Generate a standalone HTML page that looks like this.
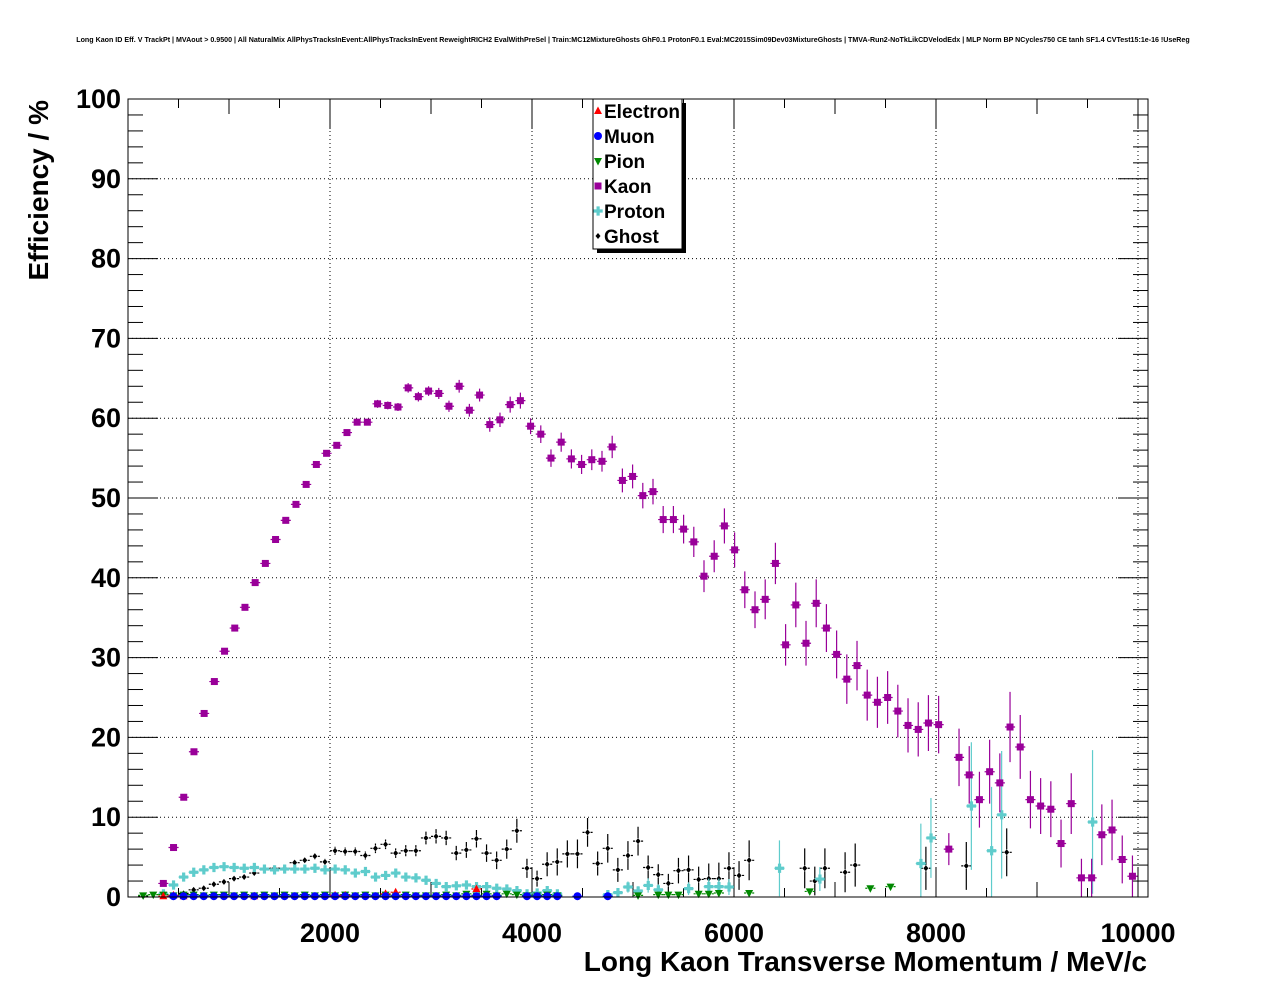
<!DOCTYPE html>
<html><head><meta charset="utf-8"><style>
html,body{margin:0;padding:0;background:#fff;}
svg{display:block;font-family:"Liberation Sans",sans-serif;}
</style></head><body>
<svg id="chart" width="1276" height="996" viewBox="0 0 1276 996" xmlns="http://www.w3.org/2000/svg">
<text x="633" y="42" font-size="7.1" text-anchor="middle" font-weight="bold">Long Kaon ID Eff. V TrackPt | MVAout &gt; 0.9500 | All NaturalMix AllPhysTracksInEvent:AllPhysTracksInEvent ReweightRICH2 EvalWithPreSel | Train:MC12MixtureGhosts GhF0.1 ProtonF0.1 Eval:MC2015Sim09Dev03MixtureGhosts | TMVA-Run2-NoTkLikCDVelodEdx | MLP Norm BP NCycles750 CE tanh SF1.4 CVTest15:1e-16 !UseReg</text>
<g id="grid"></g>
<g id="axes"></g>
<g id="marks"></g>
<rect x="128" y="99" width="1020" height="798" fill="none" stroke="#000" stroke-width="1"/>
<text transform="translate(48,100) rotate(-90)" text-anchor="end" font-size="28" font-weight="bold">Efficiency / %</text>
<text x="1147" y="971" text-anchor="end" font-size="28" font-weight="bold">Long Kaon Transverse Momentum / MeV/c</text>
<g>
<rect x="597" y="103" width="89" height="150" fill="#000"/>
<rect x="593" y="99" width="89" height="150" fill="#fff" stroke="#000" stroke-width="1"/>
<g id="legend-entries"></g>
</g>
</svg>
<script>
// ---- data (MeV bin centres, efficiency %) ----
const kaonX0 = 350, kaonStep = 101, binWidth = 100;
const kaonY = [1.7,6.2,12.5,18.2,23,27,30.8,33.7,36.3,39.4,41.8,44.8,47.2,49.2,51.7,54.2,55.6,56.6,58.2,59.5,59.5,61.8,61.6,61.4,63.8,62.7,63.4,63.1,61.5,64,61,62.9,59.2,59.8,61.7,62.2,59,58,55,57,54.9,54.2,54.8,54.6,56.4,52.2,52.7,50.3,50.8,47.3,47.3,46.1,44.5,40.2,42.7,46.5,43.5,38.5,36,37.3,41.8,31.6,36.6,31.8,36.8,33.7,30.4,27.3,29,25.3,24.4,25,23.3,21.5,21,21.8,21.6,6.0,17.5,15.3,12.2,15.7,14.3,21.3,18.8,12.2,11.4,11,6.7,11.7,2.4,2.4,7.8,8.4,4.7,2.6];
const kaonErr = [0.2,0.3,0.3,0.3,0.3,0.3,0.3,0.3,0.3,0.3,0.3,0.3,0.3,0.3,0.3,0.4,0.4,0.4,0.4,0.4,0.4,0.5,0.5,0.5,0.6,0.6,0.6,0.7,0.7,0.8,0.8,0.8,0.9,0.9,1,1,1,1.1,1.1,1.2,1.2,1.2,1.3,1.3,1.4,1.5,1.5,1.6,1.6,1.7,1.7,1.8,1.9,2,2,2.2,2.2,2.3,2.3,2.5,2.6,2.6,2.8,2.8,3,3,3,3.1,3.1,3.2,3.2,3.3,3.3,3.4,3.4,3.5,3.6,2,3.6,3.6,3.5,4,3.7,4.4,4,3.6,3.5,3.5,3,3.8,2.4,2.4,3.8,3.8,3,2.6];
const ghostX = [150,550,650,750,850,950,1050,1150,1250,1350,1450,1550,1650,1750,1850,1950,2050,2150,2250,2350,2450,2550,2650,2750,2850,2950,3050,3150,3250,3350,3450,3550,3650,3750,3850,3950,4050,4150,4250,4350,4450,4550,4650,4750,4850,4950,5050,5150,5250,5350,5450,5550,5650,5750,5850,5950,6050,6150,6700,6800,6900,7100,7200,7900,8300,8700];
const ghostY = [0.1,0.45,0.9,1.1,1.6,1.9,2.3,2.5,3.0,3.5,3.6,3.6,4.3,4.6,5.1,4.4,5.8,5.7,5.7,5.2,6.1,6.6,5.5,5.8,5.8,7.4,7.6,7.4,5.5,5.9,7.3,5.5,4.6,6.0,8.3,3.6,2.3,4.1,4.4,5.4,5.4,8.1,4.2,6.1,3.4,5.2,7.0,3.7,2.8,1.7,3.3,3.4,2.2,2.3,2.3,3.6,2.7,4.6,3.6,2.0,3.6,3.1,4.0,3.6,3.9,5.6];
const ghostErr = [0.1,0.2,0.2,0.2,0.2,0.2,0.2,0.2,0.3,0.3,0.3,0.3,0.3,0.3,0.4,0.4,0.5,0.5,0.5,0.5,0.6,0.6,0.6,0.7,0.7,0.8,0.9,0.9,0.9,1,1.1,1.1,1.1,1.2,1.5,1.2,1,1.5,1.7,1.7,1.8,1.8,1.5,1.8,1.5,1.8,1.8,1.5,1.3,1.2,1.6,1.8,1.6,1.9,2,2,1.8,2.5,2.5,1.8,2.5,2.5,2.7,2.7,3,3];
const protonX = [350,450,550,650,750,850,950,1050,1150,1250,1350,1450,1550,1650,1750,1850,1950,2050,2150,2250,2350,2450,2550,2650,2750,2850,2950,3050,3150,3250,3350,3450,3550,3650,3750,3850,3950,4050,4150,4250,4750,4850,4950,5050,5150,5250,5550,5750,5850,5950,6450,6850,7850,7950,8350,8550,8650,9550];
const protonY = [0.4,1.5,2.5,3.1,3.4,3.7,3.8,3.7,3.6,3.7,3.5,3.4,3.5,3.5,3.5,3.6,3.4,3.5,3.4,3.0,3.2,2.5,2.7,3.0,2.5,2.4,2.1,1.7,1.3,1.4,1.5,1.3,1.3,1.1,1.0,0.8,0.4,0.5,0.8,0.4,0.3,0.55,1.25,0.75,1.45,0.9,1.05,1.3,1.3,1.25,3.6,2.25,4.2,7.4,11.4,5.8,10.3,9.4];
const protonErr = [0.1,0.1,0.1,0.1,0.1,0.1,0.1,0.1,0.1,0.1,0.1,0.1,0.1,0.1,0.1,0.1,0.1,0.1,0.1,0.1,0.1,0.1,0.2,0.2,0.2,0.2,0.2,0.2,0.2,0.2,0.3,0.3,0.3,0.3,0.3,0.3,0.2,0.3,0.4,0.3,0.3,0.5,0.7,0.6,0.9,0.7,0.8,1,1,1,3.5,1.5,5,5,8,8,8,9];
const pionX = [150,250,350,450,550,650,750,850,950,1050,1150,1250,1350,1450,1550,1650,1750,1850,1950,2050,2150,2250,2350,2450,2550,2650,2750,2850,2950,3050,3150,3250,3350,3450,3550,3650,3750,3850,3950,4050,4150,4250,5050,5250,5350,5450,5650,5750,5850,6150,6750,7350,7550];
const pionY = [0.2,0.3,0.3,0.2,0.3,0.3,0.2,0.3,0.3,0.2,0.3,0.2,0.3,0.2,0.3,0.2,0.3,0.2,0.3,0.2,0.3,0.2,0.3,0.2,0.3,0.2,0.3,0.2,0.2,0.2,0.3,0.2,0.4,0.2,0.4,0.2,0.4,0.3,0.2,0.2,0.3,0.2,0.2,0.3,0.3,0.3,0.4,0.4,0.5,0.5,0.7,1.1,1.3];
const muonX = [450,550,650,750,850,950,1050,1150,1250,1350,1450,1550,1650,1750,1850,1950,2050,2150,2250,2350,2450,2550,2650,2750,2850,2950,3050,3150,3250,3350,3450,3550,3650,3950,4050,4150,4250,4450,4750];
const muonY = [0.1,0.1,0.1,0.1,0.1,0.1,0.1,0.1,0.1,0.1,0.1,0.1,0.1,0.1,0.1,0.1,0.1,0.1,0.1,0.1,0.1,0.1,0.1,0.1,0.1,0.1,0.1,0.1,0.1,0.1,0.1,0.1,0.1,0.1,0.1,0.1,0.1,0.1,0.1];
const electronX = [350,450,550,1250,2050,2150,2550,2650,3450];
const electronY = [0.1,0.2,0.1,0.1,0.2,0.2,0.4,0.6,1.0];
const xTicks = [2000,4000,6000,8000,10000];
const yTicks = [0,10,20,30,40,50,60,70,80,90,100];

// ---- axis functions ----
const X0 = 128, X1 = 1148, Y0 = 897, Y1 = 99;
const xMax = (X1 - X0) / 0.101;
const sx = v => X0 + v / xMax * (X1 - X0);
const sy = v => Y0 - v / 100 * (Y0 - Y1);
const NS = 'http://www.w3.org/2000/svg';
function mk(tag, attrs, parent) {
  const e = document.createElementNS(NS, tag);
  for (const k in attrs) e.setAttribute(k, attrs[k]);
  parent.appendChild(e);
  return e;
}
const grid = document.getElementById('grid');
const axes = document.getElementById('axes');
const marks = document.getElementById('marks');

xTicks.forEach(t => {
  const l = mk('line', {x1: sx(t), x2: sx(t), y1: Y1, y2: Y0, stroke: '#000', 'stroke-dasharray': '1,3'}, grid);
  
  
});
yTicks.slice(1, -1).forEach(t => {
  const l = mk('line', {x1: X0, x2: X1, y1: sy(t), y2: sy(t), stroke: '#000', 'stroke-dasharray': '1,3'}, grid);
  
  
});
for (let v = 0; v <= 100; v += 2) {
  const len = v % 10 === 0 ? 30 : 15;
  const y = sy(v);
  const a = mk('line', {x1: X0, x2: X0 + len, y1: y, y2: y, stroke: '#000'}, axes);
  
  
  const b = mk('line', {x1: X1, x2: X1 - len, y1: y, y2: y, stroke: '#000'}, axes);
  
  
}
yTicks.forEach(t => {
  const tx = mk('text', {x: 121, y: sy(t) + 9, 'text-anchor': 'end', 'font-size': 27, 'font-weight': 'bold'}, axes);
  
  
  tx.textContent = t;
});
for (let v = 500; v < xMax; v += 500) {
  const len = v % 2000 === 0 ? 30 : (v % 1000 === 0 ? 15 : 9);
  const x = sx(v);
  const a = mk('line', {x1: x, x2: x, y1: Y0, y2: Y0 - len, stroke: '#000'}, axes);
  
  
  const b = mk('line', {x1: x, x2: x, y1: Y1, y2: Y1 + len, stroke: '#000'}, axes);
  
  
}
xTicks.forEach(t => {
  const tx = mk('text', {x: sx(t), y: 942, 'text-anchor': 'middle', 'font-size': 27, 'font-weight': 'bold'}, axes);
  
  
  tx.textContent = t;
});

function marker(g, kind, color, x, y) {
  let e;
  if (kind === 'square') e = mk('rect', {x: x - 3.5, y: y - 3.5, width: 7, height: 7, fill: color}, g);
  else if (kind === 'circle') e = mk('circle', {cx: x, cy: y, r: 4, fill: color}, g);
  else if (kind === 'up') e = mk('polygon', {points: `${x},${y-4.5} ${x-4},${y+3} ${x+4},${y+3}`, fill: color}, g);
  else if (kind === 'down') e = mk('polygon', {points: `${x},${y+4.5} ${x-4},${y-3} ${x+4},${y-3}`, fill: color}, g);
  else if (kind === 'cross') e = mk('path', {d: `M${x-4.5},${y-1.6}h3v-3h3.2v3h3v3.2h-3v3h-3.2v-3h-3z`, fill: color}, g);
  else e = mk('polygon', {points: `${x},${y-3} ${x+2.5},${y} ${x},${y+3} ${x-2.5},${y}`, fill: color}, g);
  return e;
}
function series(name, kind, color, xs, ys, errs) {
  const g = mk('g', {}, marks);
  
  
  xs.forEach((xv, i) => {
    const x = sx(xv), y = sy(ys[i]);
    const er = errs ? errs[i] : 0;
    const hw = (sx(binWidth) - sx(0)) / 2;
    const eb = mk('path', {d: `M${x-hw},${y}H${x-3}M${x+3},${y}H${x+hw}M${x},${Math.min(sy(ys[i]+er), y-3)}V${y-3}M${x},${y+3}V${Math.max(Math.min(sy(ys[i]-er), Y0), y+3)}`, stroke: color, 'stroke-width': 1.2, fill: 'none'}, g);
    
    
    const m = marker(g, kind, color, x, y);
    
    
  });
}
const kaonX = kaonY.map((_, i) => kaonX0 + i * kaonStep);
series('ghost', 'diamond', '#000', ghostX, ghostY, ghostErr);
series('proton', 'cross', '#5fcccc', protonX, protonY, protonErr);
series('pion', 'down', '#008800', pionX, pionY, null);
series('electron', 'up', '#ff0000', electronX, electronY, null);
series('muon', 'circle', '#0000ff', muonX, muonY, null);
series('kaon', 'square', '#990099', kaonX, kaonY, kaonErr);

const legendItems = ['Electron','Muon','Pion','Kaon','Proton','Ghost'];
const legendKinds = ['up','circle','down','square','cross','diamond'];
const legendColors = ['#ff0000','#0000ff','#008800','#990099','#5fcccc','#000'];
const lg = document.getElementById('legend-entries');
legendItems.forEach((name, i) => {
  const y = 111 + i * 25;
  const g = mk('g', {}, lg);
  
  
  const m = marker(g, legendKinds[i], legendColors[i], 598, y);
  
  
  const t = mk('text', {x: 604, y: y + 7, 'font-size': 19, 'font-weight': 'bold'}, g);
  
  
  t.textContent = name;
});
</script>
</body></html>
